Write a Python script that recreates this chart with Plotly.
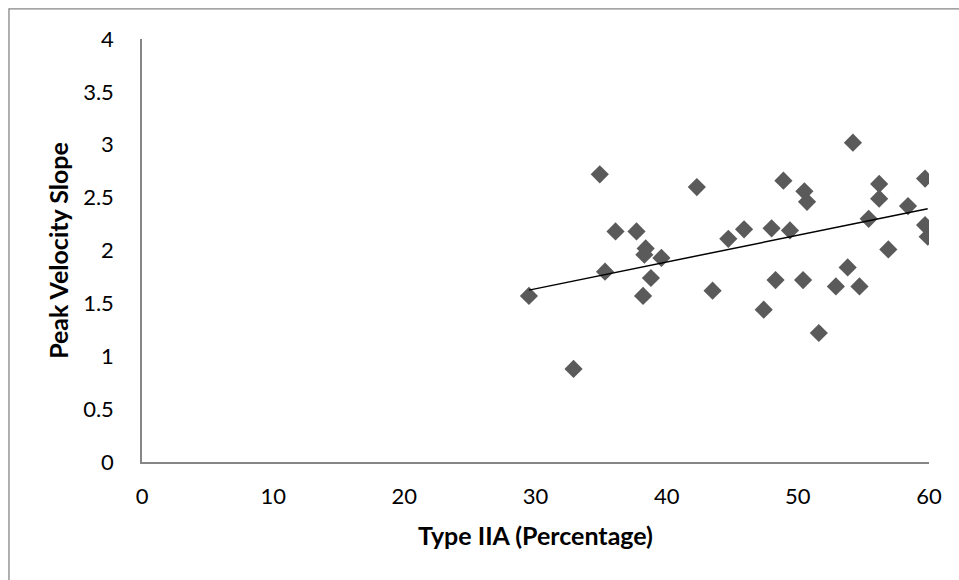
import plotly.graph_objects as go

# Type IIA fibre percentage vs. peak velocity slope
type_iia = [29.5, 32.9, 34.9, 35.3, 36.1, 37.7, 38.4, 38.3, 39.6, 38.8, 38.2,
            42.3, 43.5, 44.7, 45.9, 47.4, 48.0, 48.3, 48.9, 49.4, 50.4, 50.5,
            50.7, 51.6, 52.9, 53.8, 54.2, 54.7, 55.4, 56.2, 56.2, 56.9, 58.4,
            59.7, 59.7, 59.9]
peak_slope = [1.57, 0.88, 2.72, 1.80, 2.18, 2.18, 2.02, 1.96, 1.93, 1.74, 1.57,
              2.60, 1.62, 2.11, 2.20, 1.44, 2.21, 1.72, 2.66, 2.19, 1.72, 2.56,
              2.46, 1.22, 1.66, 1.84, 3.02, 1.66, 2.30, 2.63, 2.49, 2.01, 2.42,
              2.68, 2.24, 2.13]

# Linear trend line: y = slope * x + intercept
trend_slope = 0.0253
trend_intercept = 0.879

x_ticks = [0, 10, 20, 30, 40, 50, 60]
y_ticks = [0, 0.5, 1, 1.5, 2, 2.5, 3, 3.5, 4]
y_tick_text = ["0", "0.5", "1", "1.5", "2", "2.5", "3", "3.5", "4"]

W, H = 959, 580
ML, MR, MT, MB = 141.5, 29.5, 39.3, 118.3
PW, PH = W - ML - MR, H - MT - MB

x_fit = [min(type_iia), max(type_iia)]
y_fit = [trend_slope * v + trend_intercept for v in x_fit]

FONT = "Lato"
AXIS_GREY = "#868686"

fig = go.Figure()
fig.add_trace(go.Scatter(
    x=type_iia, y=peak_slope, mode="markers",
    marker=dict(symbol="diamond", size=14, color="#5a5a5a", line=dict(width=0)),
    showlegend=False, hoverinfo="x+y",
))
fig.add_trace(go.Scatter(
    x=x_fit, y=y_fit, mode="lines",
    line=dict(color="#000000", width=1.5),
    showlegend=False, hoverinfo="skip",
))

# Chart-area frame (left and top edges visible, right/bottom run off the page)
def px_to_paper_x(px):
    return (px - ML) / PW

def px_to_paper_y(py):
    return (H - MB - py) / PH

fig.add_shape(
    type="rect", xref="paper", yref="paper",
    x0=px_to_paper_x(8.3), x1=px_to_paper_x(W + 5),
    y0=px_to_paper_y(H + 5), y1=px_to_paper_y(9.3),
    line=dict(color=AXIS_GREY, width=1.3), fillcolor="rgba(0,0,0,0)",
    layer="below",
)

fig.update_layout(
    width=W, height=H,
    margin=dict(l=ML, r=MR, t=MT, b=MB, pad=0),
    paper_bgcolor="white", plot_bgcolor="white",
    font=dict(family=FONT, color="#000000", size=22),
    xaxis=dict(
        range=[0, 60], tickvals=x_ticks, showgrid=False, zeroline=False,
        showline=True, linecolor=AXIS_GREY, linewidth=1.5, ticks="",
        ticklabelstandoff=14,
        tickfont=dict(family=FONT, size=22),
        title=dict(text="<b>Type IIA (Percentage)</b>", standoff=19,
                   font=dict(family=FONT, size=25)),
    ),
    yaxis=dict(
        range=[0, 4], tickvals=y_ticks, ticktext=y_tick_text, showgrid=False,
        zeroline=False, showline=True, linecolor=AXIS_GREY, linewidth=1.5,
        ticks="", ticklabelstandoff=22,
        tickfont=dict(family=FONT, size=22),
        title=dict(text="<b>Peak Velocity Slope</b>", standoff=7,
                   font=dict(family=FONT, size=25)),
    ),
)

fig.write_html("out.html")
